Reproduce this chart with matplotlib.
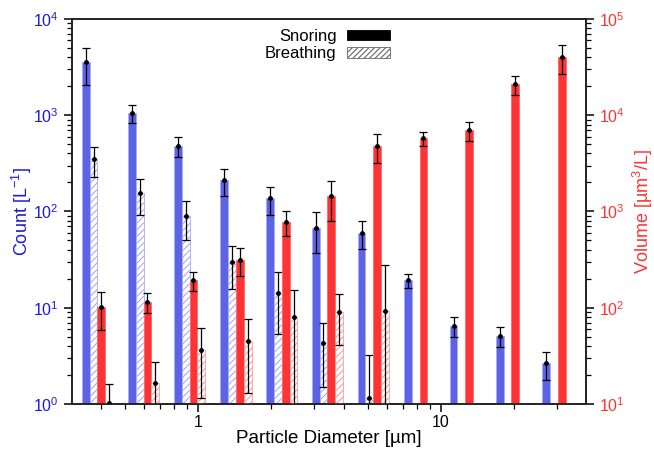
import numpy as np
import matplotlib
matplotlib.use("Agg")
import matplotlib.pyplot as plt
from matplotlib.patches import Patch
from matplotlib.ticker import LogLocator, NullFormatter, LogFormatterMathtext

plt.rcParams['font.family'] = ['Liberation Sans', 'DejaVu Sans']
plt.rcParams['mathtext.fontset'] = 'custom'
plt.rcParams['mathtext.rm'] = 'Liberation Sans'
plt.rcParams['hatch.linewidth'] = 0.8

# particle size bins (group centres, um)
diameters = [0.386, 0.597, 0.923, 1.43, 2.21, 3.41, 5.27, 8.16, 12.6, 19.5, 30.2]

# number concentration [1/L]
count_snore = [3530, 1060, 481, 210, 137, 68, 60, 19.4, 6.46, 5.08, 2.64]
count_snore_err = [1450, 230, 110, 64, 44, 31, 19, 3.2, 1.5, 1.2, 0.85]
count_breath = [350, 154, 90, 29.6, 14.3, 4.27, 1.17]
count_breath_err = [120, 62, 39, 14, 9, 2.75, 2.1]

# volume concentration [um^3/L]
vol_snore = [102, 115, 194, 313, 782, 1445, 4780, 5740, 7000, 20900, 40400]
vol_snore_err = [43, 26, 44, 100, 220, 640, 1580, 900, 1550, 4800, 13400]
vol_breath = [10.2, 16.4, 36.4, 45, 80.7, 90, 93]
vol_breath_err = [6, 11, 24.7, 32, 72, 49, 184]

blue = '#5c63e6'
blue_light = '#a9adf2'
blue_text = '#1a1ad6'
red = '#ff3333'
red_light = '#ff9c9c'

bar_w = 0.0325  # decades


def bar_edges(centres, slot):
    logc = np.log10(np.asarray(centres)) + (slot - 2) * bar_w
    left = 10 ** logc
    right = 10 ** (logc + bar_w)
    return left, right - left, np.sqrt(left * right)


def err(a, x, y, e):
    a.errorbar(x, y, yerr=e, fmt='o', ms=2.5, color='black', ecolor='black',
               elinewidth=0.9, capsize=3, capthick=0.9)


fig = plt.figure(figsize=(6.54, 4.49), dpi=100)
ax = fig.add_axes([0.110, 0.100, 0.786, 0.858])
ax2 = ax.twinx()

n_b = len(count_breath)

l, w, c = bar_edges(diameters, 0)
ax.bar(l, count_snore, width=w, align='edge', color=blue, edgecolor=blue_light, linewidth=0.6)
err(ax, c, count_snore, count_snore_err)

l, w, c = bar_edges(diameters[:n_b], 1)
ax.bar(l, count_breath, width=w, align='edge', color='white', edgecolor=blue_light,
       hatch='/////', linewidth=0.6)
err(ax, c, count_breath, count_breath_err)

l, w, c = bar_edges(diameters, 2)
ax2.bar(l, vol_snore, width=w, align='edge', color=red, edgecolor='#ff6a6a', linewidth=0.6)
err(ax2, c, vol_snore, vol_snore_err)

l, w, c = bar_edges(diameters[:n_b], 3)
ax2.bar(l, vol_breath, width=w, align='edge', color='white', edgecolor=red_light,
        hatch='/////', linewidth=0.6)
err(ax2, c, vol_breath, vol_breath_err)

ax.set_xscale('log')
ax.set_yscale('log')
ax2.set_yscale('log')
ax.set_xlim(0.303, 39.5)
ax.set_ylim(1, 1e4)
ax2.set_ylim(10, 1e5)

ax.xaxis.set_minor_locator(LogLocator(base=10, subs=np.arange(2, 10)))
ax.xaxis.set_minor_formatter(NullFormatter())
ax.set_xticks([1, 10])
ax.set_xticklabels(['1', '10'])

for a in (ax, ax2):
    a.yaxis.set_major_locator(LogLocator(base=10))
    a.yaxis.set_minor_locator(LogLocator(base=10, subs=np.arange(2, 10)))
    a.yaxis.set_minor_formatter(NullFormatter())
    a.yaxis.set_major_formatter(LogFormatterMathtext())
    a.tick_params(which='major', direction='out', length=6, width=1.1, labelsize=11.5)
    a.tick_params(which='minor', direction='out', length=3.5, width=0.9)
    for s in a.spines.values():
        s.set_linewidth(1.2)
        s.set_color('#222222')

ax.tick_params(axis='y', labelcolor=blue_text)
ax.tick_params(axis='x', labelcolor='black', pad=2)
ax2.tick_params(axis='y', labelcolor=red)

ax.set_xlabel('Particle Diameter [\u00b5m]', fontsize=13.5, labelpad=0)
ax.set_ylabel('Count [L$^{-1}$]', fontsize=13, color=blue_text, labelpad=-1)
ax2.set_ylabel('Volume [\u00b5m$^{3}$/L]', fontsize=13, color=red, labelpad=4)

handles = [Patch(facecolor='black', edgecolor='black', linewidth=0.6),
           Patch(facecolor='white', edgecolor='#666666', hatch='//////', linewidth=0.6)]
ax.legend(handles, ['Snoring', 'Breathing'], loc='upper center', bbox_to_anchor=(0.497, 1.013),
          frameon=False, markerfirst=False, fontsize=12, handlelength=2.6, handleheight=0.6,
          handletextpad=0.6, labelspacing=0.15)

fig.savefig('out.png', dpi=100)
